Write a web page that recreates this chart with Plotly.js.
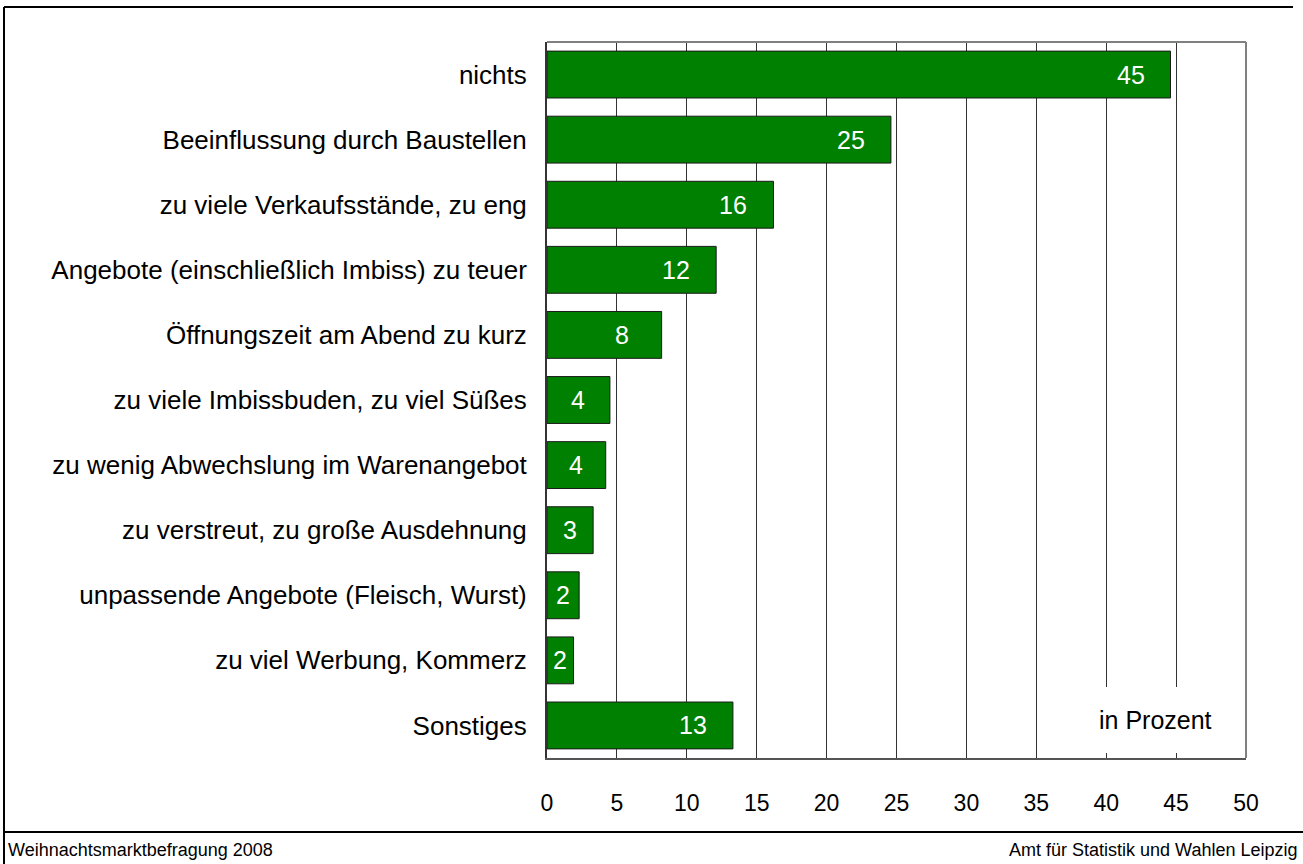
<!DOCTYPE html>
<html>
<head>
<meta charset="utf-8">
<script src="https://cdn.plot.ly/plotly-3.0.1.min.js"></script>
<style>
html,body{margin:0;padding:0;background:#fff;}
#chart{width:1303px;height:864px;}
</style>
</head>
<body>
<div id="chart"></div>
<script>
const categories = [
  "nichts",
  "Beeinflussung durch Baustellen",
  "zu viele Verkaufsstände, zu eng",
  "Angebote (einschließlich Imbiss) zu teuer",
  "Öffnungszeit am Abend zu kurz",
  "zu viele Imbissbuden, zu viel Süßes",
  "zu wenig Abwechslung im Warenangebot",
  "zu verstreut, zu große Ausdehnung",
  "unpassende Angebote (Fleisch, Wurst)",
  "zu viel Werbung, Kommerz",
  "Sonstiges"
];
const values = [44.6, 24.6, 16.2, 12.1, 8.2, 4.5, 4.2, 3.3, 2.3, 1.9, 13.3];
const valueLabels = ["45", "25", "16", "12", "8", "4", "4", "3", "2", "2", "13"];
const xTicks = [0, 5, 10, 15, 20, 25, 30, 35, 40, 45, 50];

const FONT = "Liberation Sans, Arial, sans-serif";

const trace = {
  type: "bar",
  orientation: "h",
  y: categories,
  x: values,
  marker: { color: "rgb(0,128,0)", line: { color: "#1a1a1a", width: 1 } },
  width: 0.72,
  hoverinfo: "none"
};

const labelAnns = values.map((v, i) => ({
  x: v > 6 ? v : v / 2,
  y: categories[i],
  xref: "x", yref: "y",
  text: valueLabels[i],
  showarrow: false,
  xanchor: "center",
  yanchor: "middle",
  xshift: v > 6 ? -40 : 0,
  font: { family: FONT, size: 25, color: "#ffffff" }
}));

// pixel helpers for frame decoration (plot area: x 547..1246, y 42..758)
const L = 547, R = 1246, T = 42, B = 758;
const px = p => (p - L) / (R - L);
const py = p => (B - p) / (B - T);

const layout = {
  width: 1303,
  height: 864,
  paper_bgcolor: "#ffffff",
  plot_bgcolor: "#ffffff",
  margin: { l: L, r: 1303 - R, t: T, b: 864 - B },
  showlegend: false,
  bargap: 0.28,
  font: { family: FONT, size: 24, color: "#000000" },
  xaxis: {
    range: [0, 50],
    tickvals: xTicks,
    ticktext: xTicks.map(String),
    showgrid: true,
    gridcolor: "#333333",
    gridwidth: 1,
    zeroline: false,
    showline: true,
    linecolor: "#555555",
    linewidth: 2,
    ticks: "inside",
    ticklen: 5,
    tickcolor: "#333333",
    ticklabelstandoff: 23,
    tickfont: { family: FONT, size: 23, color: "#000000" },
    fixedrange: true
  },
  yaxis: {
    type: "category",
    autorange: "reversed",
    showgrid: false,
    zeroline: false,
    showline: true,
    linecolor: "#333333",
    linewidth: 2,
    ticks: "",
    ticklabelstandoff: 13,
    tickfont: { family: FONT, size: 26, color: "#000000" },
    fixedrange: true
  },
  shapes: [
    // white box behind "in Prozent" (covers gridlines, not ticks/border)
    { type: "rect", layer: "above", xref: "paper", yref: "paper", x0: px(1045), x1: px(1244), y0: py(753), y1: py(687), fillcolor: "#ffffff", line: { width: 0 } },
    // plot border top & right (gray)
    { type: "line", xref: "paper", yref: "paper", x0: 0, x1: 1, y0: 1, y1: 1, line: { color: "#808080", width: 2 } },
    { type: "line", xref: "paper", yref: "paper", x0: 1, x1: 1, y0: 0, y1: 1, line: { color: "#808080", width: 2 } },
    // outer frame
    { type: "line", xref: "paper", yref: "paper", x0: px(4), x1: px(1293), y0: py(7), y1: py(7), line: { color: "#000000", width: 2 } },
    { type: "line", xref: "paper", yref: "paper", x0: px(4), x1: px(4), y0: py(7), y1: py(864), line: { color: "#000000", width: 2 } },
    { type: "line", xref: "paper", yref: "paper", x0: px(4), x1: px(1303), y0: py(832), y1: py(832), line: { color: "#000000", width: 2 } }
  ],
  annotations: labelAnns.concat([
    {
      x: px(1155), y: py(720), xref: "paper", yref: "paper",
      text: "in Prozent", showarrow: false,
      xanchor: "center", yanchor: "middle",
      font: { family: FONT, size: 25, color: "#000000" }
    },
    {
      x: px(6), y: py(850), xref: "paper", yref: "paper",
      text: "Weihnachtsmarktbefragung 2008", showarrow: false,
      xanchor: "left", yanchor: "middle",
      font: { family: FONT, size: 18, color: "#000000" }
    },
    {
      x: px(1299), y: py(850), xref: "paper", yref: "paper",
      text: "Amt für Statistik und Wahlen Leipzig", showarrow: false,
      xanchor: "right", yanchor: "middle",
      font: { family: FONT, size: 18, color: "#000000" }
    }
  ])
};

Plotly.newPlot("chart", [trace], layout, { displayModeBar: false, staticPlot: true });
</script>
</body>
</html>
